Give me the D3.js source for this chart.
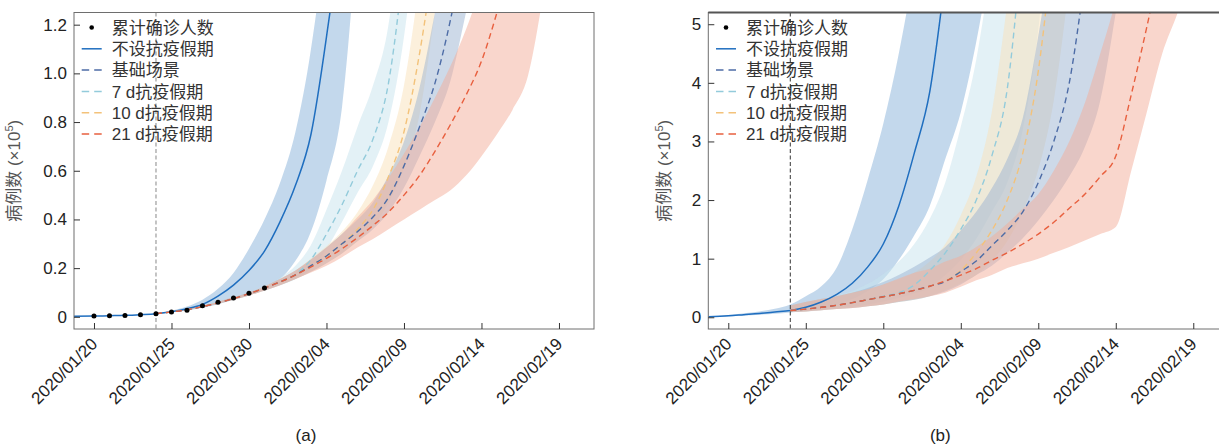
<!DOCTYPE html>
<html><head><meta charset="utf-8">
<script src="https://cdn.jsdelivr.net/npm/d3@7"></script>
<style>
body{margin:0;background:#fff}
svg{display:block}
text{font-family:"Liberation Sans",Arial,"Noto Sans CJK SC",sans-serif}
</style>
</head><body>
<svg id="chart" width="1219" height="444"></svg>
<script>
// ---------- data (values in units of 10^5 cases, days counted from 2020/01/20) ----------
const seriesNames = ["累计确诊人数","不设抗疫假期","基础场景","7 d抗疫假期","10 d抗疫假期","21 d抗疫假期"];
const xTickDays = [0,5,10,15,20,25,30];
const xTickLabels = ["2020/01/20","2020/01/25","2020/01/30","2020/02/04","2020/02/09","2020/02/14","2020/02/19"];
const yTicksA = [0,0.2,0.4,0.6,0.8,1.0,1.2];
const yTickLabelsA = ["0","0.2","0.4","0.6","0.8","1.0","1.2"];
const yTicksB = [0,1,2,3,4,5];
const yTickLabelsB = ["0","1","2","3","4","5"];
const holidayDay = 4; // 2020/01/24

const obsDays = [0,1,2,3,4,5,6,7,8,9,10,11];
const obsCases = [0.0029,0.0044,0.0057,0.0083,0.0129,0.0198,0.0274,0.0452,0.0597,0.0771,0.0969,0.1179];

const daysNH = [-1.3,0,1,2,3,4,5,6,7,8,9,10,11,12,13,14,15,16,17];
const daysS  = [4,5,6,7,8,9,10,11,12,13,14,15,16,17,18,19,20,21,22,23,24,25,26,27,28,29,30];

// panel (a)
const aNHmid = [0.002,0.003,0.0045,0.006,0.009,0.013,0.021,0.033,0.051,0.085,0.13,0.19,0.27,0.39,0.54,0.75,1.15,1.65,2.4];
const aNHhi  = [0.002,0.003,0.0045,0.0062,0.0093,0.014,0.025,0.042,0.07,0.115,0.18,0.28,0.4,0.55,0.76,1.1,1.6,2.3,3.3];
const aNHlo  = [0.002,0.003,0.0045,0.0058,0.0087,0.012,0.018,0.026,0.037,0.052,0.07,0.095,0.125,0.155,0.23,0.35,0.56,0.86,1.6];
const aB_mid = [0.013,0.02,0.029,0.042,0.057,0.075,0.095,0.118,0.143,0.172,0.21,0.25,0.3,0.35,0.41,0.49,0.62,0.78,0.96,1.22,1.55];
const aB_hi  = [0.014,0.021,0.031,0.045,0.061,0.08,0.1,0.125,0.155,0.19,0.235,0.285,0.34,0.4,0.47,0.58,0.72,0.94,1.25,1.6];
const aB_lo  = [0.012,0.019,0.027,0.04,0.054,0.07,0.088,0.108,0.13,0.155,0.185,0.22,0.26,0.31,0.36,0.43,0.53,0.66,0.8,0.97,1.25,1.55];
const a7_mid = [0.013,0.02,0.029,0.042,0.057,0.075,0.095,0.118,0.145,0.175,0.235,0.34,0.46,0.6,0.73,0.96,1.45];
const a7_hi  = [0.014,0.021,0.031,0.045,0.061,0.08,0.1,0.125,0.16,0.21,0.295,0.44,0.6,0.78,0.95,1.2,1.75];
const a7_lo  = [0.012,0.019,0.027,0.04,0.054,0.07,0.088,0.108,0.13,0.155,0.2,0.28,0.39,0.51,0.62,0.8,1.15,1.7];
const a10_mid = [0.013,0.02,0.029,0.042,0.057,0.075,0.095,0.118,0.143,0.172,0.21,0.25,0.3,0.36,0.44,0.575,0.76,1.08,1.5];
const a10_hi  = [0.014,0.021,0.031,0.045,0.061,0.08,0.1,0.125,0.155,0.19,0.24,0.29,0.35,0.43,0.54,0.7,0.95,1.38,1.9];
const a10_lo  = [0.012,0.019,0.027,0.04,0.054,0.07,0.088,0.108,0.13,0.155,0.185,0.22,0.26,0.31,0.37,0.47,0.61,0.83,1.25,1.7];
const a21_mid = [0.013,0.02,0.029,0.042,0.057,0.075,0.095,0.118,0.143,0.172,0.205,0.24,0.28,0.325,0.375,0.43,0.5,0.58,0.68,0.79,0.91,1.05,1.25,1.48];
const a21_hi  = [0.014,0.021,0.031,0.045,0.061,0.08,0.1,0.125,0.155,0.19,0.235,0.285,0.34,0.41,0.48,0.57,0.67,0.78,0.9,1.03,1.18,1.36,1.55];
const a21_lo  = [0.012,0.019,0.027,0.04,0.054,0.07,0.088,0.108,0.13,0.155,0.182,0.21,0.245,0.285,0.32,0.36,0.4,0.44,0.48,0.52,0.58,0.66,0.75,0.85,0.99,1.33,1.75];

// panel (b)
const bNHmid = [0.008,0.025,0.045,0.065,0.09,0.115,0.17,0.26,0.39,0.58,0.86,1.25,1.9,2.8,3.85,5.8,8,11,15];
const bNHhi  = [0.01,0.04,0.07,0.1,0.145,0.22,0.36,0.53,0.85,1.5,2.35,3.3,4.5,6.0,8,10,13,17,22];
const bNHlo  = [0.003,0.015,0.03,0.045,0.06,0.08,0.11,0.15,0.22,0.31,0.45,0.65,0.98,1.4,1.9,2.7,3.5,4.7,6.2];
const bB_mid = [0.115,0.14,0.17,0.205,0.25,0.3,0.35,0.4,0.46,0.53,0.61,0.78,0.96,1.22,1.48,1.8,2.3,3.0,4.0,5.8];
const bB_hi  = [0.2,0.26,0.31,0.36,0.42,0.5,0.6,0.72,0.86,1.02,1.2,1.48,1.8,2.2,2.7,3.4,4.8,6.5];
const bB_lo  = [0.09,0.1,0.12,0.14,0.16,0.19,0.22,0.26,0.3,0.36,0.44,0.56,0.72,0.88,1.1,1.35,1.65,2.0,2.4,2.9,3.7,5.2,7.0];
const b7_mid = [0.115,0.14,0.17,0.205,0.25,0.3,0.36,0.42,0.55,0.8,1.1,1.5,2.0,2.75,3.9,6.5];
const b7_hi  = [0.2,0.26,0.31,0.37,0.45,0.57,0.74,0.95,1.25,1.68,2.3,3.25,4.4,6.1];
const b7_lo  = [0.09,0.1,0.12,0.15,0.18,0.22,0.27,0.33,0.41,0.51,0.72,0.98,1.34,1.8,2.3,3.2,4.9,8.0];
const b10_mid = [0.115,0.14,0.17,0.205,0.25,0.3,0.35,0.4,0.46,0.53,0.62,0.8,1.1,1.48,2.0,2.8,4.2,6.5];
const b10_hi  = [0.2,0.26,0.31,0.36,0.42,0.48,0.56,0.65,0.76,0.95,1.25,1.74,2.4,3.5,5.35,7.5];
const b10_lo  = [0.09,0.1,0.12,0.14,0.16,0.19,0.22,0.26,0.3,0.36,0.46,0.58,0.72,0.96,1.3,1.8,2.52,3.7,5.7];
const b21_mid = [0.115,0.14,0.17,0.205,0.25,0.3,0.35,0.4,0.46,0.53,0.62,0.72,0.83,0.97,1.1,1.25,1.42,1.62,1.86,2.1,2.4,2.75,3.8,4.95,6.2];
const b21_hi  = [0.2,0.26,0.31,0.36,0.42,0.48,0.56,0.66,0.76,0.83,0.95,1.05,1.2,1.38,1.6,1.85,2.1,2.5,3.0,3.65,4.5,5.4,6.5];
const b21_lo  = [0.09,0.1,0.12,0.14,0.16,0.19,0.22,0.27,0.31,0.36,0.42,0.52,0.63,0.72,0.84,0.92,1.0,1.1,1.2,1.31,1.42,1.54,2.5,3.5,4.5,5.2,6.0];

// ---------- styles ----------
const style = {
  nh:  {line:"#1f6ebf", band:"#87b1d9", dash:null},
  b:   {line:"#4d6ca6", band:"#9bb3d1", dash:"6,4"},
  d7:  {line:"#93cbdb", band:"#c7e3ed", dash:"6,4"},
  d10: {line:"#f3c27a", band:"#f9e1b9", dash:"6,4"},
  d21: {line:"#e8603f", band:"#f3ad99", dash:"6,4"}
};

const svg = d3.select("#chart");
const PW = 520, PT = 12.5, PB = 329;

function drawPanel(cfg){
  const L = cfg.left;
  const x = d3.scaleLinear().domain([-1.29, 32.26]).range([L, L+PW]);
  const y = d3.scaleLinear().domain(cfg.yDomain).range([PB, PT]);
  const g = svg.append("g");
  const cid = "clip"+cfg.id;
  svg.append("defs").append("clipPath").attr("id",cid)
     .append("rect").attr("x",L).attr("y",PT).attr("width",PW).attr("height",PB-PT);
  const plot = g.append("g").attr("clip-path","url(#"+cid+")");
  const line = d3.line().curve(d3.curveMonotoneX);
  const pts = (days, vals) => vals.map((v,i)=>[x(days[i]), y(v)]);
  function band(days, hi, lo){
    const p1 = line(pts(days,hi));
    const p2 = line(pts(days,lo).reverse());
    return p1 + "L" + p2.slice(1) + "Z";
  }
  const S = cfg.series;
  S.forEach(s=>{
    plot.append("path").attr("d", band(s.days, s.hi, s.lo))
      .attr("fill", style[s.key].band).attr("fill-opacity",0.5).attr("stroke","none");
  });
  S.forEach(s=>{
    plot.append("path").attr("d", line(pts(s.days, s.mid)))
      .attr("fill","none").attr("stroke", style[s.key].line)
      .attr("stroke-width", s.key==="nh"?1.5:1.4)
      .attr("stroke-dasharray", style[s.key].dash);
  });
  g.append("line").attr("x1",x(holidayDay)).attr("x2",x(holidayDay))
    .attr("y1",PT).attr("y2",PB)
    .attr("stroke",cfg.vColor).attr("stroke-width",1).attr("stroke-dasharray","4,2.5");
  if(cfg.showObs){
    g.selectAll("circle.obs").data(obsDays).enter().append("circle")
      .attr("cx",(d)=>x(d)).attr("cy",(d,i)=>y(obsCases[i])).attr("r",2.5).attr("fill","#000");
  }
  g.append("rect").attr("x",L).attr("y",PT).attr("width",PW).attr("height",PB-PT)
    .attr("fill","none").attr("stroke","#6e6e6e").attr("stroke-width",1);
  if(cfg.thickTop){
    g.append("line").attr("x1",L).attr("x2",L+PW).attr("y1",PT).attr("y2",PT)
      .attr("stroke","#555").attr("stroke-width",2.2);
  }
  const xa = g.append("g").attr("transform","translate(0,"+PB+")")
    .call(d3.axisBottom(x).tickValues(xTickDays).tickSize(-6).tickSizeOuter(0)
      .tickFormat((d,i)=>xTickLabels[i]));
  xa.select(".domain").remove();
  xa.selectAll(".tick line").attr("stroke","#333");
  xa.selectAll(".tick text").attr("font-size",17).attr("fill","#222")
    .attr("text-anchor","end").attr("y",null).attr("dy",null)
    .attr("transform","translate(4,16) rotate(-45)");
  const ya = g.append("g").attr("transform","translate("+L+",0)")
    .call(d3.axisLeft(y).tickValues(cfg.yTicks).tickSize(-6).tickSizeOuter(0).tickPadding(7)
      .tickFormat((d,i)=>cfg.yLabels[i]));
  ya.select(".domain").remove();
  ya.selectAll(".tick line").attr("stroke","#333");
  ya.selectAll(".tick text").attr("font-size",17).attr("fill","#222");
  const yt = g.append("text").attr("transform","translate("+(L-cfg.titleOffset)+","+((PT+PB)/2)+") rotate(-90)")
    .attr("text-anchor","middle").attr("font-size",17).attr("fill","#555");
  yt.append("tspan").text("病例数 (×10");
  yt.append("tspan").attr("font-size",11).attr("dy",-7).text("5");
  yt.append("tspan").attr("dy",7).text(")");
  g.append("text").attr("x",L+232).attr("y",441).attr("text-anchor","middle")
    .attr("font-size",17).attr("fill","#222").text(cfg.label);
  const lg = g.append("g");
  const legKeys = [null,"nh","b","d7","d10","d21"];
  seriesNames.forEach((name,i)=>{
    const cy = PT + 15 + i*21.3;
    if(i===0){
      lg.append("circle").attr("cx",L+17.7).attr("cy",cy).attr("r",2.3).attr("fill","#000");
    } else {
      const st = style[legKeys[i]];
      lg.append("line").attr("x1",L+7.7).attr("x2",L+27.7).attr("y1",cy).attr("y2",cy)
        .attr("stroke",st.line).attr("stroke-width",1.5)
        .attr("stroke-dasharray", st.dash ? "7.5,5" : null);
    }
    lg.append("text").attr("x",L+37.7).attr("y",cy).attr("dy","0.36em")
      .attr("font-size",17).attr("fill","#333").text(name);
  });
}

drawPanel({
  id:"a", left:74, yDomain:[-0.05,1.25], yTicks:yTicksA, yLabels:yTickLabelsA,
  showObs:true, vColor:"#888", thickTop:false, label:"(a)", titleOffset:54,
  series:[
    {key:"nh", days:daysNH, mid:aNHmid, hi:aNHhi, lo:aNHlo},
    {key:"d7", days:daysS, mid:a7_mid, hi:a7_hi, lo:a7_lo},
    {key:"d10", days:daysS, mid:a10_mid, hi:a10_hi, lo:a10_lo},
    {key:"b", days:daysS, mid:aB_mid, hi:aB_hi, lo:aB_lo},
    {key:"d21", days:daysS, mid:a21_mid, hi:a21_hi, lo:a21_lo}
  ]
});
drawPanel({
  id:"b", left:708.3, yDomain:[-0.2,5.2], yTicks:yTicksB, yLabels:yTickLabelsB,
  showObs:false, vColor:"#333", thickTop:true, label:"(b)", titleOffset:38,
  series:[
    {key:"nh", days:daysNH, mid:bNHmid, hi:bNHhi, lo:bNHlo},
    {key:"d7", days:daysS, mid:b7_mid, hi:b7_hi, lo:b7_lo},
    {key:"d10", days:daysS, mid:b10_mid, hi:b10_hi, lo:b10_lo},
    {key:"b", days:daysS, mid:bB_mid, hi:bB_hi, lo:bB_lo},
    {key:"d21", days:daysS, mid:b21_mid, hi:b21_hi, lo:b21_lo}
  ]
});
</script>
</body></html>
